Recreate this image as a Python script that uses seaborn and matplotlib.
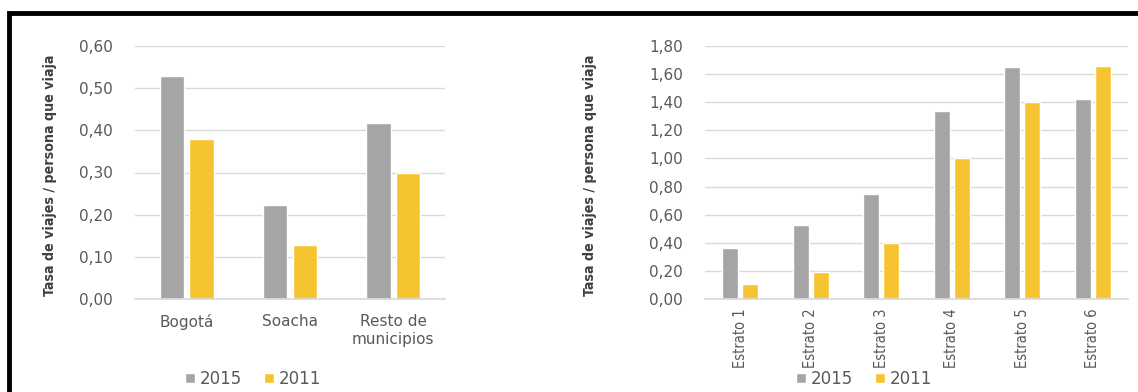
import numpy as np
import pandas as pd
import matplotlib
matplotlib.use("Agg")
import matplotlib.pyplot as plt
from matplotlib.patches import Rectangle
from matplotlib import font_manager
import seaborn as sns

# data
zonas = ["Bogotá", "Soacha", "Resto de\nmunicipios"]
zona_2015 = [0.53, 0.223, 0.417]
zona_2011 = [0.38, 0.128, 0.30]

estratos = ["Estrato 1", "Estrato 2", "Estrato 3", "Estrato 4", "Estrato 5", "Estrato 6"]
estrato_2015 = [0.36, 0.53, 0.745, 1.335, 1.65, 1.425]
estrato_2011 = [0.11, 0.19, 0.40, 1.00, 1.405, 1.655]

years = ["2015", "2011"]
yticks_left = [0.0, 0.1, 0.2, 0.3, 0.4, 0.5, 0.6]
yticks_right = [0.0, 0.2, 0.4, 0.6, 0.8, 1.0, 1.2, 1.4, 1.6, 1.8]
ylabel = "Tasa de viajes / persona que viaja"

GRAY = "#A5A5A5"
YELLOW = "#F6C431"
TXT = "#595959"
GRID = "#D9D9D9"

sns.set_theme(style="white")
plt.rcParams['font.family'] = ['DejaVu Sans']

# narrow font for the rotated/axis labels if a condensed face exists
has_cond = any("Condensed" in f.name or f.stretch == "condensed"
               for f in font_manager.fontManager.ttflist if f.name == "DejaVu Sans")
if has_cond:
    LBL_FONT = dict(family="DejaVu Sans", fontstretch="condensed")
    lab_size, est_size = 10.2, 10.5
else:
    LBL_FONT = dict(family="Liberation Sans")
    lab_size, est_size = 11, 10

W, H = 1138, 392
fig = plt.figure(figsize=(W / 100, H / 100), dpi=100)

def px_axes(x0, x1, ytop, ybot):
    return fig.add_axes([x0 / W, (H - ybot) / H, (x1 - x0) / W, (ybot - ytop) / H])

def long_df(cats, v15, v11):
    return pd.DataFrame({
        "cat": cats * 2,
        "year": [years[0]] * len(cats) + [years[1]] * len(cats),
        "val": list(v15) + list(v11),
    })

def style_ax(ax, ticks, ymax, label_x):
    ax.set_ylim(0, ymax)
    ax.set_yticks(ticks)
    ax.set_yticklabels([f"{t:.2f}".replace(".", ",") for t in ticks],
                       color=TXT, fontsize=11)
    ax.yaxis.grid(True, color=GRID, lw=1)
    ax.set_axisbelow(True)
    for s in ["top", "right", "left"]:
        ax.spines[s].set_visible(False)
    ax.spines["bottom"].set_color(GRID)
    ax.tick_params(axis="y", length=0, pad=16)
    ax.tick_params(axis="x", length=0)
    ax.set_xlabel("")
    ax.set_ylabel(ylabel, fontweight="bold", fontsize=lab_size, color="#404040", **LBL_FONT)
    ax.yaxis.set_label_coords(label_x, 0.49)
    leg = ax.get_legend()
    if leg is not None:
        leg.remove()

def add_legend(ax, cx):
    h, l = ax.get_legend_handles_labels()
    fig.legend(h, l, loc="center", bbox_to_anchor=(cx / W, 1 - 379 / H), ncol=2,
               frameon=False, fontsize=12, handlelength=0.6, handleheight=0.6,
               handletextpad=0.3, columnspacing=1.3, labelcolor=TXT)

pal = {years[0]: GRAY, years[1]: YELLOW}

# left panel
ax1 = px_axes(135, 445, 46, 299)
sns.barplot(data=long_df(zonas, zona_2015, zona_2011), x="cat", y="val", hue="year",
            palette=pal, width=0.57, gap=0.17, saturation=1, ax=ax1)
style_ax(ax1, yticks_left, 0.6, (57 - 135) / 310)
ax1.set_xticklabels(zonas, color=TXT, fontsize=11, linespacing=1.2)
ax1.tick_params(axis="x", pad=11)
add_legend(ax1, 253)

# right panel
ax2 = px_axes(705, 1128, 46, 299)
sns.barplot(data=long_df(estratos, estrato_2015, estrato_2011), x="cat", y="val", hue="year",
            palette=pal, width=0.57, gap=0.2, saturation=1, ax=ax2)
style_ax(ax2, yticks_right, 1.8, (597 - 705) / 423)
ax2.set_xticklabels(estratos, rotation=90, color=TXT, fontsize=est_size, **LBL_FONT)
ax2.tick_params(axis="x", pad=7)
add_legend(ax2, 864)

# black frame (top and left edges visible in the reference)
fig.patches.append(Rectangle((9 / W, -0.1), 1.2, 1 - 13.5 / H + 0.1, transform=fig.transFigure,
                             fill=False, edgecolor="black", lw=3.5))

fig.savefig("out.png", dpi=100)
